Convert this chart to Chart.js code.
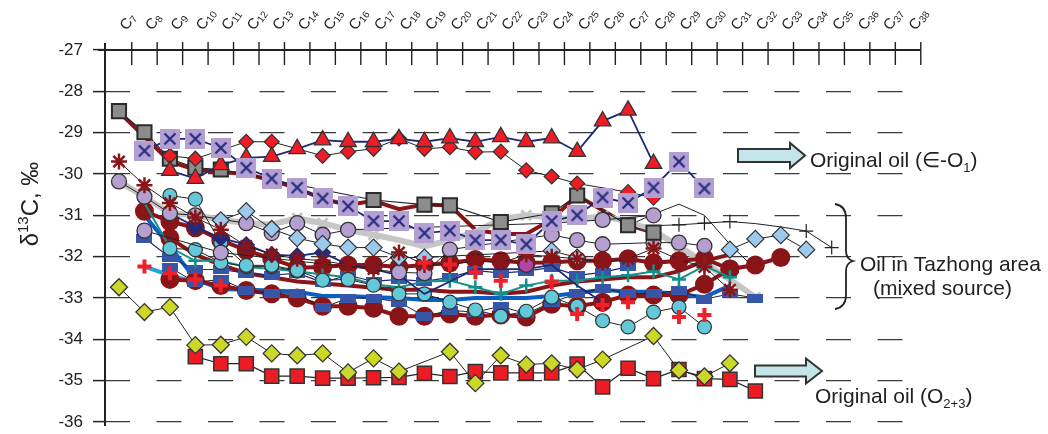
<!DOCTYPE html>
<html>
<head>
<meta charset="utf-8">
<script src="https://cdn.jsdelivr.net/npm/chart.js@4"></script>
<style>
  html, body { margin: 0; padding: 0; background: #fff; }
  #wrap { width: 1048px; height: 434px; }
</style>
</head>
<body>
<div id="wrap"><canvas id="chart" width="1048" height="434"></canvas></div>
<script>
const FONT = '"Liberation Sans", Arial, sans-serif';
const _ = null;
const pad = n => Array(n).fill(null);

// carbon number of each value slot (C7 ... C35)
const carbons = [7, 8, 9, 10, 11, 12, 13, 14, 15, 16, 17, 18, 19, 20, 21, 22, 23, 24, 25, 26, 27, 28, 29, 30, 31, 32, 33, 34, 35];
// labels of the top axis
const axisCarbons = [7, 8, 9, 10, 11, 12, 13, 14, 15, 16, 17, 18, 19, 20, 21, 22, 23, 24, 25, 26, 27, 28, 29, 30, 31, 32, 33, 34, 35, 36, 37, 38];
const yTicks = [-36, -35, -34, -33, -32, -31, -30, -29, -28, -27];

// original oil (Cambrian - O1)
const triRed = [_, _, -29.92, -30.11, -29.78, -29.61, -29.58, -29.39, -29.18, -29.22, -29.22, -29.15, -29.22, -29.13, -29.22, -29.10, -29.22, -29.13, -29.46, -28.72, -28.46, -29.75];
const diaRed = [_, _, -29.56, -29.63, _, -29.22, -29.22, _, -29.56, -29.46, -29.39, -29.14, -29.39, -29.35, -29.47, -29.46, -29.91, -30.06, -30.23, _, -30.44, -30.57];

// Tazhong oils (mixed source)
const xBox = [_, -29.44, -29.15, -29.15, -29.37, -29.85, -30.11, -30.33, -30.59, -30.78, -31.14, -31.14, -31.43, -31.37, -31.60, -31.60, -31.70, -31.14, -31.00, -30.57, -30.70, -30.33, -29.70, -30.35];
const greySq = [-28.48, -28.99, -29.63, -29.85, -29.89, _, _, _, _, _, -30.63, _, -30.74, -30.76, _, -31.16, _, -30.95, -30.52, _, -31.24, -31.42];
const redThickA = [-28.50, _, -29.70, -29.90, -29.95, -30.00, -30.15, -30.35, -30.60, -30.75, -30.65, -30.85, -30.74, -30.76, -31.35, -31.45, -31.45, -31.10, -30.52, _, -31.24, -31.42];
const greyThick = [-30.18, -30.55, -30.95, -31.00, -31.10, -31.19, -31.22, -31.07, -31.19, -31.35, -31.47, -31.60, -31.75, -31.60, -31.40, -31.10, -31.00, -31.05, -31.10, -31.02, -31.15, -31.37, -31.75, -32.15, -32.55, -32.98];
const lavA = [-30.18, -30.55, -30.95, -31.00, _, -31.19, -31.43, -31.19, -31.47, -31.35, _, _, _, _, _, _, _, -31.19, _, -31.11, _, -31.00];
const lavB = [_, -31.37, _, _, -31.90, _, _, _, _, _, _, -32.38, -32.40, -31.83, _, _, _, -31.47, -31.60, -31.70, _, -31.66, -31.66, -31.74];
const magenta = [...pad(16), -32.20];
const navyDia = [_, _, -30.95, -31.28, -31.55, -31.71, -31.95, -31.98, -31.90, -32.20, -32.30, -32.45, -32.90, -32.60, -32.30, -32.30, -32.30, -32.20, -32.70, -33.10];
const cyanA = [_, _, -30.52, -30.61, -31.67, -32.21, -32.21, -32.33, -32.57, -32.55, -32.69, -32.90, -32.90, -33.10, -33.29, -33.44, -33.32, -32.98, -33.20, -33.55, -33.70, -33.34, -33.22, -33.70];
const cyanB = [_, _, -31.80, -31.83, -32.14, -32.24, -32.24, -32.35];
const teal = [_, -30.70, -31.78, -32.10, -32.10, -32.25, -32.30, -32.35, -32.43, -32.50, -32.67, -32.74, -32.60, -32.58, -32.74, -32.90, -32.70, -32.58, -32.58, -32.50, -32.45, -32.36, -32.55, -32.22, -32.50];
const blueRectA = [_, -31.55, -32.02, -32.31, -32.31, -32.40, -32.45, -32.40, -32.62, -32.45, -32.60, -32.55, -32.60, -32.50, -32.33, -32.40, -32.35, -32.26, -32.45, -32.38, -32.24];
const blueRectB = [_, _, -32.26, -32.62, -32.55, -32.81, -32.90, -32.90, -33.24, -33.00, -33.00, -33.10, -33.44, -33.30, -33.34, -33.20, -33.38, -33.10, -32.90, -32.76, -32.90, -32.90, -32.81, -33.03, -32.90, -33.00];
const drA = [_, -30.90, -31.15, -31.30, -31.60, -31.85, -32.05, -32.27, -32.25, -32.20, -32.20, -32.25, -32.20, -32.15, -32.07, -32.10, -32.15, -32.14, -32.10, -32.10, -32.05, -32.15, -32.10, -32.05, -32.30, -32.20, -32.02];
const drB = [_, _, -32.55, -32.58, -32.70, -32.82, -32.90, -33.00, -33.20, -33.20, -33.25, -33.44, -33.44, -33.39, -33.44, -33.41, -33.46, -33.15, -33.20, -33.10, -32.93, -32.93, -32.93, -32.67, -32.30];
const drC = [_, _, -31.55, -31.95, -32.20, -32.40, -32.50, -32.60, -32.65, -32.70, -32.75, -32.80, -32.80, -32.85, -32.85, -32.90, -32.85, -32.70, -32.60, -32.55, -32.50, -32.50, -32.35, -32.10, -31.95];
const blueThick = [_, -31.00, -31.75, -32.55, -32.78, -32.80, -32.82, -32.85, -32.95, -32.95, -32.98, -33.00, -33.05, -33.05, -33.00, -33.00, -33.00, -32.95, -32.88, -32.80, -32.85, -32.85, -32.90, -32.98, -32.70];
const skyThick = [_, -32.24, -32.45, -32.62];
const redPlus = [_, -32.24, -32.40, -32.55, -32.70, _, _, _, _, _, _, _, -32.15, -32.19, -32.38, -32.58, _, -32.62, -33.39, -33.17, -33.10, _, -33.46, -33.41];
const starDR = [-29.70, -30.27, -30.70, -31.05, -31.35, -31.74, -31.95, -32.05, -32.10, -32.20, -32.30, -31.90, -32.20, -32.20, -32.10, -32.15, -31.95, -32.00, -32.05, -32.15, -32.05, -31.80, -32.07, -32.25, -32.80];
const lbDia = [_, _, _, _, -31.12, -30.90, -31.33, -31.55, -31.69, -31.78, -31.78, -32.02, -32.02, _, _, _, _, -31.86, -32.02];
const lbDiaB = [...pad(24), -31.83, -31.57, -31.48, -31.83];
const plusBlack = [...pad(20), -31.25, -31.25, -31.23, -31.19, -31.15, -31.20, -31.28, -31.38, -31.78];
const blackThin = [...pad(20), -31.25, -30.97, -30.73, -31.00, -31.70, -32.30];

// original oil (O2+3)
const yellowDia = [-32.74, -33.34, -33.22, -34.14, -34.13, -33.94, -34.34, -34.39, -34.34, -34.80, -34.46, -34.78, _, -34.30, -35.06, -34.39, -34.61, -34.58, -34.73, -34.49, _, -33.92, -34.75, -34.90, -34.58];
const redSq = [_, _, _, -34.42, -34.59, -34.59, -34.89, -34.89, -34.94, -34.94, -34.93, -34.92, -34.82, -34.90, -34.78, -34.81, -34.81, -34.81, -34.60, -35.15, -34.70, -34.95, -34.73, -34.95, -34.97, -35.25];

// marker pictures
function makeXBox() {
  const c = document.createElement('canvas');
  c.width = 20; c.height = 20;
  const g = c.getContext('2d');
  g.fillStyle = '#b39fd1';
  g.fillRect(0, 0, 20, 20);
  g.strokeStyle = '#262c82';
  g.lineWidth = 2.2;
  g.beginPath();
  g.moveTo(4.5, 4.5); g.lineTo(15.5, 15.5);
  g.moveTo(15.5, 4.5); g.lineTo(4.5, 15.5);
  g.stroke();
  return c;
}
function makeBlueRect() {
  const c = document.createElement('canvas');
  c.width = 16; c.height = 9;
  const g = c.getContext('2d');
  g.fillStyle = '#3756a8';
  g.fillRect(0, 0, 16, 9);
  return c;
}
const xBoxImg = makeXBox();
const blueRectImg = makeBlueRect();

function series(values, style) {
  return Object.assign({
    data: values.map((v, i) => ({ x: carbons[i], y: v })),
    spanGaps: true,
    fill: false,
    tension: 0,
    borderWidth: 1,
    borderColor: '#222',
    pointRadius: 0
  }, style);
}
function only(values, idx, r) {
  return values.map((v, i) => idx.includes(i) ? r : 0);
}

const datasets = [
  series(xBox, { borderColor: '#1f2878', borderWidth: 1.8, pointStyle: xBoxImg, pointRadius: 10 }),
  series(triRed, { borderColor: '#1f2878', borderWidth: 1.8, pointStyle: 'triangle', pointRadius: 9.5, pointBackgroundColor: '#ee1c24', pointBorderColor: '#333', pointBorderWidth: 1.3 }),
  series(diaRed, { borderColor: '#222', borderWidth: 1, pointStyle: 'rectRot', pointRadius: 7.5, pointBackgroundColor: '#ee1c24', pointBorderColor: '#333', pointBorderWidth: 1.2 }),
  series(greySq, { borderColor: '#222', borderWidth: 1.1, pointStyle: 'rect', pointRadius: 10, pointBackgroundColor: '#8c8c8c', pointBorderColor: '#2a2a2a', pointBorderWidth: 2 }),
  series(redPlus, { showLine: false, pointStyle: 'cross', pointRadius: 7, pointBorderColor: '#f0202a', pointBorderWidth: 4 }),
  series(starDR, { borderColor: '#222', borderWidth: 1, pointStyle: 'star', pointRadius: 8, pointBorderColor: '#8a1518', pointBorderWidth: 2.5 }),
  series(lbDia, { borderColor: '#222', borderWidth: 1, pointStyle: 'rectRot', pointRadius: 8.5, pointBackgroundColor: '#9dc9ee', pointBorderColor: '#333', pointBorderWidth: 1.2 }),
  series(lbDiaB, { borderColor: '#222', borderWidth: 1, pointStyle: 'rectRot', pointRadius: 8.5, pointBackgroundColor: '#9dc9ee', pointBorderColor: '#333', pointBorderWidth: 1.2 }),
  series(magenta, { pointStyle: 'circle', pointRadius: 7.5, pointBackgroundColor: '#b1479f', pointBorderColor: '#333', pointBorderWidth: 1.2 }),
  series(lavA, { borderColor: '#222', borderWidth: 1, pointStyle: 'circle', pointRadius: 7.5, pointBackgroundColor: '#b59fd0', pointBorderColor: '#333', pointBorderWidth: 1.3 }),
  series(lavB, { borderColor: '#222', borderWidth: 1, pointStyle: 'circle', pointRadius: 7.5, pointBackgroundColor: '#b59fd0', pointBorderColor: '#333', pointBorderWidth: 1.3 }),
  series(navyDia, { borderColor: '#1f2878', borderWidth: 1.8, pointStyle: 'rectRot', pointRadius: only(navyDia, [3, 4, 5, 6, 7, 8], 7.5), pointBackgroundColor: '#232a7c', pointBorderColor: '#232a7c' }),
  series(cyanA, { borderColor: '#222', borderWidth: 1, pointStyle: 'circle', pointRadius: 7, pointBackgroundColor: '#63c8d8', pointBorderColor: '#333', pointBorderWidth: 1.2 }),
  series(cyanB, { borderColor: '#222', borderWidth: 1, pointStyle: 'circle', pointRadius: 7, pointBackgroundColor: '#63c8d8', pointBorderColor: '#333', pointBorderWidth: 1.2 }),
  series(teal, { borderColor: '#12908c', borderWidth: 2, pointStyle: 'cross', pointRadius: only(teal, [2, 3, 4, 8, 10, 11, 13, 14, 15, 16, 17, 18, 19, 20, 21, 22, 23, 24], 7), pointBorderColor: '#12908c', pointBorderWidth: 2.5 }),
  series(blueRectA, { borderColor: '#1f2878', borderWidth: 1.2, pointStyle: blueRectImg, pointRadius: 6 }),
  series(blueRectB, { borderColor: '#222', borderWidth: 1, pointStyle: blueRectImg, pointRadius: 6 }),
  series(drA, { borderColor: '#8a1518', borderWidth: 4, pointStyle: 'circle', pointRadius: 7.5, pointBackgroundColor: '#8a1518', pointBorderColor: '#8a1518' }),
  series(drB, { borderColor: '#8a1518', borderWidth: 4, pointStyle: 'circle', pointRadius: 7.5, pointBackgroundColor: '#8a1518', pointBorderColor: '#8a1518' }),
  series(drC, { borderColor: '#8a1518', borderWidth: 4, pointStyle: 'circle', pointRadius: only(drC, [2], 7.5), pointBackgroundColor: '#8a1518', pointBorderColor: '#8a1518' }),
  series(blueThick, { borderColor: '#0b5fc2', borderWidth: 4 }),
  series(skyThick, { borderColor: '#1fa2de', borderWidth: 4 }),
  series(greyThick, { borderColor: '#c6c6c6', borderWidth: 6, pointStyle: 'crossRot', pointRadius: only(greyThick, [4, 7, 8, 10, 15, 16, 19, 22, 25], 7), pointBorderColor: '#c6c6c6', pointBorderWidth: 3 }),
  series(redThickA, { borderColor: '#8a1518', borderWidth: 4 }),
  series(plusBlack, { borderColor: '#222', borderWidth: 1, pointStyle: 'cross', pointRadius: only(plusBlack, [22, 23, 24, 27, 28], 7), pointBorderColor: '#222', pointBorderWidth: 1.2 }),
  series(blackThin, { borderColor: '#222', borderWidth: 1 }),
  series(yellowDia, { borderColor: '#222', borderWidth: 1, pointStyle: 'rectRot', pointRadius: 8.5, pointBackgroundColor: '#cbd827', pointBorderColor: '#333', pointBorderWidth: 1.3 }),
  series(redSq, { borderColor: '#222', borderWidth: 1.2, pointStyle: 'rect', pointRadius: 10, pointBackgroundColor: '#ec1c24', pointBorderColor: '#333', pointBorderWidth: 1.5 })
];

function drawRuns(ctx, x, y, parts) {
  let cx = x;
  for (const p of parts) {
    ctx.font = p.size + 'px ' + FONT;
    ctx.fillText(p.t, cx, y + (p.dy || 0));
    cx += ctx.measureText(p.t).width;
  }
  return cx;
}
function drawArrow(ctx, x0, x1, yc, bodyH, headH, headL) {
  ctx.beginPath();
  ctx.moveTo(x0, yc - bodyH / 2);
  ctx.lineTo(x1 - headL, yc - bodyH / 2);
  ctx.lineTo(x1 - headL, yc - headH / 2);
  ctx.lineTo(x1, yc);
  ctx.lineTo(x1 - headL, yc + headH / 2);
  ctx.lineTo(x1 - headL, yc + bodyH / 2);
  ctx.lineTo(x0, yc + bodyH / 2);
  ctx.closePath();
  ctx.fillStyle = '#c4e6ea';
  ctx.fill();
  ctx.strokeStyle = '#333';
  ctx.lineWidth = 2;
  ctx.stroke();
}

const decor = {
  id: 'decor',
  afterDraw(chart) {
    const ctx = chart.ctx;
    const xs = chart.scales.x, ys = chart.scales.y;
    const area = chart.chartArea;
    const yTop = ys.getPixelForValue(-27);
    const yBot = ys.getPixelForValue(-36);
    ctx.save();

    // axes
    ctx.strokeStyle = '#222';
    ctx.lineWidth = 2;
    ctx.beginPath();
    ctx.moveTo(area.left, yTop - 7);
    ctx.lineTo(area.left, yBot + 4);
    ctx.moveTo(area.left - 7, yTop);
    ctx.lineTo(xs.getPixelForValue(38.5), yTop);
    ctx.stroke();
    ctx.lineWidth = 1.4;
    ctx.beginPath();
    for (const n of axisCarbons) {
      const px = xs.getPixelForValue(n + 0.5);
      ctx.moveTo(px, yTop - 8);
      ctx.lineTo(px, yTop + 15);
    }
    ctx.stroke();

    // top labels C7 ... C38
    ctx.fillStyle = '#222';
    ctx.textBaseline = 'alphabetic';
    for (const n of axisCarbons) {
      const px = xs.getPixelForValue(n);
      ctx.save();
      ctx.translate(px + 8, 31);
      ctx.rotate(-55 * Math.PI / 180);
      drawRuns(ctx, 0, 0, [{ t: 'C', size: 15 }, { t: String(n), size: 10, dy: 2 }]);
      ctx.restore();
    }

    // y title
    ctx.save();
    ctx.translate(30, 204);
    ctx.rotate(-Math.PI / 2);
    const parts = [{ t: 'δ', size: 24 }, { t: '13', size: 15, dy: -10 }, { t: 'C, ‰', size: 24 }];
    let w = 0;
    for (const p of parts) { ctx.font = p.size + 'px ' + FONT; w += ctx.measureText(p.t).width; }
    drawRuns(ctx, -w / 2, 8, parts);
    ctx.restore();

    // annotations
    drawArrow(ctx, 738, 805, 155.5, 13, 25, 15);
    drawArrow(ctx, 755, 822, 371, 11, 25, 16);
    ctx.fillStyle = '#222';
    drawRuns(ctx, 810, 167, [{ t: 'Original oil (∈-O', size: 21 }, { t: '1', size: 13, dy: 5 }, { t: ')', size: 21 }]);
    drawRuns(ctx, 815, 403, [{ t: 'Original oil (O', size: 21 }, { t: '2+3', size: 13, dy: 5 }, { t: ')', size: 21 }]);
    drawRuns(ctx, 860, 271, [{ t: 'Oil in Tazhong area', size: 21 }]);
    drawRuns(ctx, 873, 295, [{ t: '(mixed source)', size: 21 }]);

    // brace
    ctx.strokeStyle = '#222';
    ctx.lineWidth = 1.8;
    ctx.beginPath();
    ctx.moveTo(835, 204);
    ctx.quadraticCurveTo(846, 206, 846, 218);
    ctx.lineTo(846, 251);
    ctx.quadraticCurveTo(846, 259, 853, 261);
    ctx.quadraticCurveTo(846, 263, 846, 271);
    ctx.lineTo(846, 295);
    ctx.quadraticCurveTo(846, 307, 835, 309);
    ctx.stroke();
    ctx.restore();
  }
};

new Chart(document.getElementById('chart'), {
  type: 'line',
  data: { datasets },
  options: {
    responsive: false,
    animation: false,
    devicePixelRatio: 1,
    layout: { padding: { left: 0, top: 50, right: 143, bottom: 8 } },
    plugins: { legend: { display: false }, tooltip: { enabled: false } },
    scales: {
      x: { type: 'linear', min: 6.45, max: 37.88, display: false },
      y: {
        min: -36, max: -27,
        afterFit(s) { s.width = 105; s.paddingTop = 0; s.paddingBottom = 0; },
        afterBuildTicks(s) { s.ticks = yTicks.map(v => ({ value: v })); },
        ticks: { color: '#222', font: { family: FONT, size: 17 }, padding: 10 },
        grid: { color: '#3a3a3a', lineWidth: 1.2, tickLength: 12, tickColor: '#222', tickWidth: 1.5, tickBorderDash: [] },
        border: { display: false, dash: [25, 26.5] }
      }
    }
  },
  plugins: [decor]
});
</script>
</body>
</html>
